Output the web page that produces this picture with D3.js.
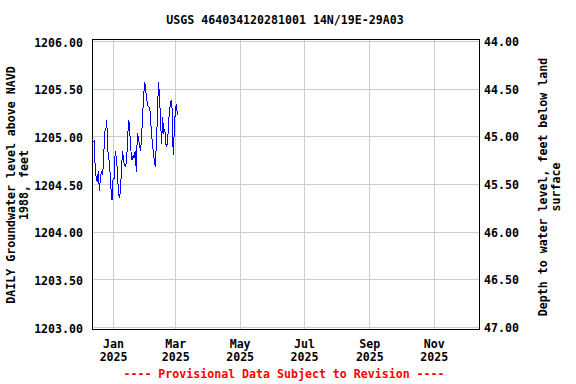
<!DOCTYPE html>
<html>
<head>
<meta charset="utf-8">
<script src="https://cdn.jsdelivr.net/npm/d3@7"></script>
<style>
  body { margin: 0; background: #fff; }
  svg text { font-family: 'DejaVu Sans Mono', monospace; font-weight: bold; }
</style>
</head>
<body>
<div id="chart"></div>
<script>
// Chart data
const chartTitle = 'USGS 464034120281001 14N/19E-29A03';
const footerText = '---- Provisional Data Subject to Revision ----';
const leftTitle = ['DAILY Groundwater level above NAVD', '1988, feet'];
const rightTitle = ['Depth to water level, feet below land', 'surface'];

// first daily value, then one value per day
const startDay = '2024-12-13';
const levels = [
  1204.94, 1204.95, 1204.68, 1204.56, 1204.52, 1204.64, 1204.43, 1204.56, 1204.64, 1204.59,
  1204.75, 1205.05, 1205.06, 1205.17, 1204.85, 1204.77, 1204.64, 1204.45, 1204.33, 1204.56,
  1204.56, 1204.84, 1204.78, 1204.66, 1204.42, 1204.35, 1204.43, 1204.66, 1204.85, 1204.73,
  1204.70, 1204.68, 1204.78, 1205.03, 1205.17, 1205.01, 1204.84, 1204.75, 1204.80, 1204.77,
  1204.85, 1204.63, 1205.03, 1204.99, 1204.91, 1204.85, 1204.98, 1205.22, 1205.43, 1205.57,
  1205.48, 1205.38, 1205.32, 1205.31, 1205.27, 1205.10, 1204.96, 1204.85, 1204.75, 1204.68,
  1204.91, 1205.20, 1205.57, 1205.43, 1205.17, 1204.92, 1205.20, 1205.03, 1205.08, 1204.92,
  1204.89, 1205.01, 1205.20, 1205.31, 1205.38, 1205.29, 1204.80, 1205.05, 1205.27, 1205.34,
  1205.22
];

const levelTicks = [1203, 1203.5, 1204, 1204.5, 1205, 1205.5, 1206];
const depthTicks = [44, 44.5, 45, 45.5, 46, 46.5, 47];
const monthTicks = ['2025-01-01', '2025-03-01', '2025-05-01', '2025-07-01', '2025-09-01', '2025-11-01'];
const dateRange = ['2024-12-12', '2025-12-14'];

const width = 576;
const height = 384;
const frame = { left: 92, right: 479, top: 39, bottom: 329 };
const gridColor = '#cccccc';
const fontSize = 11.6;

const parse = d3.timeParse('%Y-%m-%d');
const t0 = parse(startDay);
const series = levels.map((v, i) => ({ date: d3.timeDay.offset(t0, i), value: v }));

const x = d3.scaleTime()
  .domain(dateRange.map(parse))
  .range([frame.left, frame.right]);

const y = d3.scaleLinear().domain([1203, 1206]).range([327, 41]);
const yDepth = d3.scaleLinear().domain([44, 47]).range([41, 327]);

const svg = d3.select('#chart')
  .append('svg')
  .attr('width', width)
  .attr('height', height)
  .attr('viewBox', `0 0 ${width} ${height}`);

svg.append('rect').attr('width', width).attr('height', height).attr('fill', '#fff');

/* Grid */
svg.append('g')
  .selectAll('line')
  .data(levelTicks)
  .join('line')
  .attr('x1', frame.left)
  .attr('x2', frame.right)
  .attr('y1', (d) => Math.round(y(d)) + 0.5)
  .attr('y2', (d) => Math.round(y(d)) + 0.5)
  .attr('stroke', gridColor);

svg.append('g')
  .selectAll('line')
  .data(monthTicks.map(parse))
  .join('line')
  .attr('x1', (d) => Math.round(x(d)) + 0.5)
  .attr('x2', (d) => Math.round(x(d)) + 0.5)
  .attr('y1', frame.top)
  .attr('y2', frame.bottom)
  .attr('stroke', gridColor);

/* Data line */
const line = d3.line()
  .x((d) => x(d.date))
  .y((d) => y(d.value));

svg.append('path')
  .datum(series)
  .attr('fill', 'none')
  .attr('stroke', '#0000ff')
  .attr('stroke-width', 1)
  .attr('shape-rendering', 'crispEdges')
  .attr('d', line);

/* Frame */
svg.append('rect')
  .attr('x', frame.left + 0.5)
  .attr('y', frame.top + 0.5)
  .attr('width', frame.right - frame.left)
  .attr('height', frame.bottom - frame.top)
  .attr('fill', 'none')
  .attr('stroke', '#000')
  .attr('stroke-width', 1);

/* Left axis labels */
const leftAxis = svg.append('g')
  .attr('transform', `translate(${frame.left},0)`)
  .call(d3.axisLeft(y).tickValues(levelTicks).tickSize(0).tickPadding(9).tickFormat(d3.format('.2f')));
leftAxis.select('.domain').remove();
leftAxis.selectAll('text')
  .attr('font-size', fontSize)
  .attr('font-family', null)
  .attr('fill', '#000')
  .attr('dy', '0.45em');

/* Right axis labels */
const rightAxis = svg.append('g')
  .attr('transform', `translate(${frame.right},0)`)
  .call(d3.axisRight(yDepth).tickValues(depthTicks).tickSize(0).tickPadding(5).tickFormat(d3.format('.2f')));
rightAxis.select('.domain').remove();
rightAxis.selectAll('text')
  .attr('font-size', fontSize)
  .attr('font-family', null)
  .attr('fill', '#000')
  .attr('dy', '0.4em');

/* Bottom axis: month + year on two lines */
const bottomAxis = svg.append('g')
  .attr('transform', `translate(0,${frame.bottom})`)
  .call(d3.axisBottom(x).tickValues(monthTicks.map(parse)).tickSize(0).tickFormat(''));
bottomAxis.select('.domain').remove();
bottomAxis.selectAll('.tick').each(function (d) {
  const g = d3.select(this);
  g.append('text')
    .attr('y', 19)
    .attr('text-anchor', 'middle')
    .attr('font-size', fontSize)
    .attr('fill', '#000')
    .text(d3.timeFormat('%b')(d));
  g.append('text')
    .attr('y', 31.5)
    .attr('text-anchor', 'middle')
    .attr('font-size', fontSize)
    .attr('fill', '#000')
    .text(d3.timeFormat('%Y')(d));
});

/* Title */
svg.append('text')
  .attr('x', 285)
  .attr('y', 24)
  .attr('text-anchor', 'middle')
  .attr('font-size', fontSize)
  .attr('fill', '#000')
  .text(chartTitle);

/* Axis titles */
const midY = 185;
leftTitle.forEach((t, i) => {
  svg.append('text')
    .attr('transform', `translate(${15 + i * 13},${midY}) rotate(-90)`)
    .attr('text-anchor', 'middle')
    .attr('font-size', fontSize)
    .attr('fill', '#000')
    .text(t);
});

rightTitle.forEach((t, i) => {
  svg.append('text')
    .attr('transform', `translate(${547 + i * 13},${midY + 2}) rotate(-90)`)
    .attr('text-anchor', 'middle')
    .attr('font-size', fontSize)
    .attr('fill', '#000')
    .text(t);
});

/* Footer */
svg.append('text')
  .attr('x', 284)
  .attr('y', 378)
  .attr('text-anchor', 'middle')
  .attr('font-size', fontSize)
  .attr('fill', '#ff0000')
  .text(footerText);
</script>
</body>
</html>
